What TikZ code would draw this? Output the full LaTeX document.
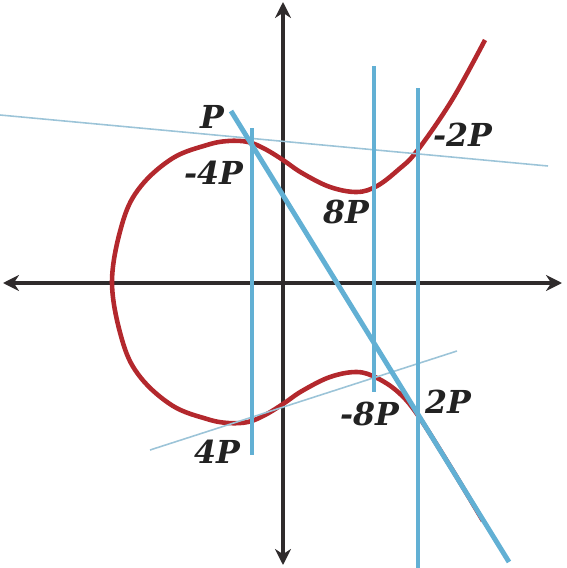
\documentclass[tikz,border=0pt]{standalone}
\usepackage{fontspec}
\setmainfont{DejaVu Serif}
\usepackage{tikz}
\usetikzlibrary{arrows.meta}

\definecolor{axisgray}{HTML}{2F2B2C}
\definecolor{curvered}{HTML}{B3282D}
\definecolor{chordblue}{HTML}{62B0D4}
\definecolor{thinblue}{HTML}{9CC4D8}
\definecolor{labelgray}{HTML}{222222}

\begin{document}
\begin{tikzpicture}[x=0.02cm, y=-0.02cm, >={Stealth[length=3.2mm, width=3.2mm]}]
        % Define styles
        \tikzstyle{axis} = [draw=axisgray, line width=2.2pt, <->]
        \tikzstyle{curve} = [draw=curvered, line width=2.6pt, smooth, tension=0.6]
        \tikzstyle{chord} = [draw=chordblue, line width=2.8pt]
        \tikzstyle{tangent} = [draw=thinblue, line width=0.9pt]
        \tikzstyle{lbl} = [font=\fontsize{18}{20}\selectfont\bfseries\itshape, text=labelgray, inner sep=0pt]

        \useasboundingbox (0,0) rectangle (566,568);

        % Axes
        \coordinate (west) at (3,283);
        \coordinate (east) at (562,283);
        \coordinate (north) at (283,2);
        \coordinate (south) at (283,565);
        \draw [axis] (west) -- (east);
        \draw [axis] (north) -- (south);

        % Curve
        \draw [curve] plot coordinates {(485,40) (452,100) (417,151) (398,170) (377,186)
            (357,192) (330,187) (302,173) (283,160) (265,149) (248,142) (228,141)
            (207,145) (173,158) (141,186) (123,221) (112,282) (123,343) (141,378)
            (173,406) (207,419) (228,423) (248,422) (265,415) (283,404) (302,391)
            (330,377) (357,372) (377,378) (398,392) (417,414) (450,466) (483,521)};

        % Tangent lines
        \draw [tangent] (0,115) -- (548,166);
        \draw [tangent] (150,450) -- (457,351);

        % Chords
        \draw [chord] (231,111) -- (509,562);
        \draw [chord] (252,128) -- (252,455);
        \draw [chord] (374,66) -- (374,392);
        \draw [chord] (418,88) -- (418,568);

        % Labels
        \node [lbl] (p) at (212,117) {P};
        \node [lbl] (m4p) at (214,173) {-4P};
        \node [lbl] (p8) at (346,212) {8P};
        \node [lbl] (m2p) at (463,135) {-2P};
        \node [lbl] (p4) at (217,452) {4P};
        \node [lbl] (m8p) at (370,414) {-8P};
        \node [lbl] (p2) at (448,402) {2P};
    \end{tikzpicture}
\end{document}
